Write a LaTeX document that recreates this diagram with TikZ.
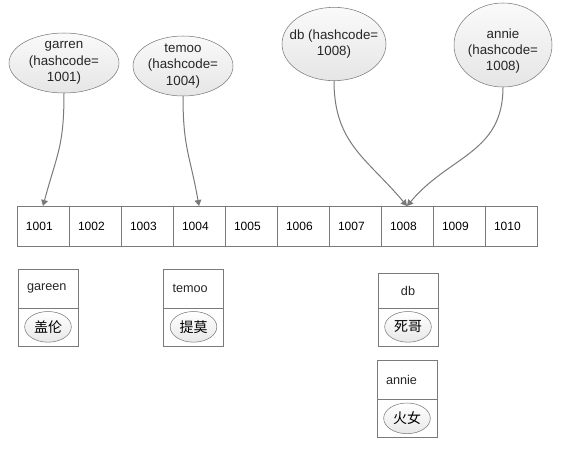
\documentclass[tikz,border=0pt]{standalone}
\usepackage{fontspec}
\setmainfont{Liberation Sans}
\newfontfamily\cjk{Noto Sans CJK SC}
\usepackage{tikz}
\usetikzlibrary{arrows.meta,positioning,shapes.geometric}

\definecolor{edgegray}{HTML}{7A7A7A}

\begin{document}
\begin{tikzpicture}[
    x=0.75pt, y=0.75pt,
    node distance=0pt,
    bubble/.style={draw=edgegray, ellipse, inner sep=0pt, top color=gray!4, bottom color=gray!20},
    bubbletxt/.style={align=center, font=\fontsize{10}{12.3}\selectfont, text=black!85},
    cell/.style={draw=edgegray, outer sep=0pt, minimum height=30pt, text width=25.5pt, inner xsep=6.75pt, align=left, font=\fontsize{9}{11}\selectfont},
    namebox/.style={draw=edgegray, outer sep=0pt, minimum height=29pt, text width=31.5pt, inner xsep=6.75pt, align=left, font=\fontsize{9.5}{11}\selectfont, text=black!85},
    valbox/.style={draw=edgegray, outer sep=0pt, minimum width=45pt, minimum height=28.5pt},
    chip/.style={draw=edgegray, ellipse, inner sep=0pt, minimum width=35pt, minimum height=23pt, top color=white, bottom color=gray!18, font=\cjk\fontsize{10.5}{12}\selectfont},
    link/.style={-{Triangle[width=5pt,length=4.5pt]}, draw=edgegray, line width=0.75pt}
]
\useasboundingbox (0,0) rectangle (567,-451);

% keys sitting above the table
\node[bubble, minimum width=82.5pt, minimum height=45pt] (garren) at (64,-63) {};
\node[bubbletxt] (garrentxt) at (garren) {garren\\(hashcode=\\1001)};
\node[bubble, minimum width=75pt, minimum height=45pt] (temoo) at (183,-66) {};
\node[bubbletxt] (temootxt) at (temoo) {temoo\\(hashcode=\\1004)};
\node[bubble, minimum width=78pt, minimum height=55pt] (db) at (334,-44) {};
\node[bubbletxt] (dbtxt) at (db) {db (hashcode=\\1008)};
\node[bubble, minimum width=73.5pt, minimum height=63pt] (annie) at (503,-45) {};
\node[bubbletxt] (annietxt) at ([yshift=-4.5pt]annie.center) {annie\\(hashcode=\\1008)};

% hash table
\node[cell] (c1) at (43,-226) {1001};
\node[cell, right=of c1] (c2) {1002};
\node[cell, right=of c2] (c3) {1003};
\node[cell, right=of c3] (c4) {1004};
\node[cell, right=of c4] (c5) {1005};
\node[cell, right=of c5] (c6) {1006};
\node[cell, right=of c6] (c7) {1007};
\node[cell, right=of c7] (c8) {1008};
\node[cell, right=of c8] (c9) {1009};
\node[cell, right=of c9] (c10) {1010};

\draw[link] (garren.south) to[out=-90, in=75, looseness=1.2] (c1.north);
\draw[link] (temoo.south) to[out=-90, in=100, looseness=1.2] (c4.north);
\draw[link] (db.south) to[out=-90, in=130, looseness=1.1] (c8.north);
\draw[link] (annie.south) to[out=-90, in=50, looseness=1.1] (c8.north);

% stored entries
\node[namebox] (gareen) at (48,-288.5) {gareen};
\node[valbox, below=of gareen] (gareenval) {};
\node[chip] (gareenchip) at (gareenval) {盖伦};

\node[namebox] (temoobox) at (193.5,-288.5) {temoo};
\node[valbox, below=of temoobox] (temooval) {};
\node[chip] (temoochip) at (temooval) {提莫};

\node[namebox, align=center, minimum height=26pt] (dbbox) at (408,-290.5) {db};
\node[valbox, below=of dbbox] (dbval) {};
\node[chip] (dbchip) at (dbval) {死哥};

\node[namebox] (anniebox) at (407,-380) {annie};
\node[valbox, below=of anniebox] (annieval) {};
\node[chip] (anniechip) at (annieval) {火女};
\end{tikzpicture}
\end{document}
